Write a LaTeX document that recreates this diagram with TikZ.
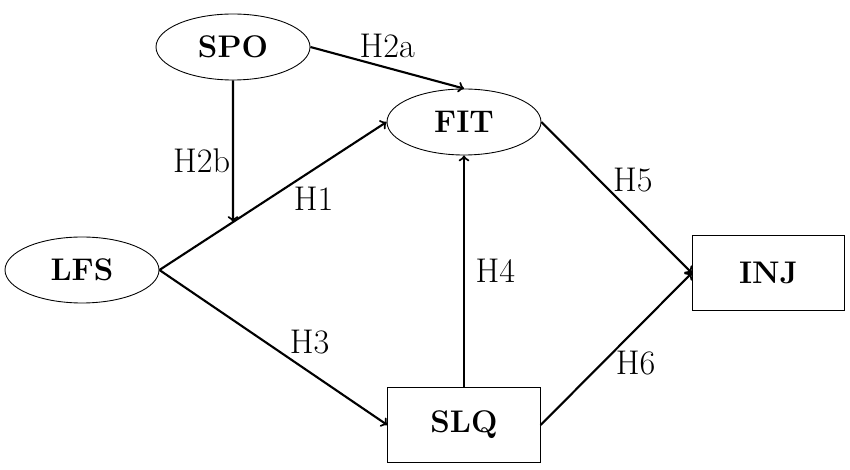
\documentclass[tikz,border=0pt]{standalone}
\usetikzlibrary{shapes.geometric}
\begin{document}
\begin{tikzpicture}[
        construct/.style={draw, ellipse, line width=0.5pt, minimum width=3.08cm, minimum height=1.32cm, font=\bfseries},
        outcome/.style={draw, rectangle, line width=0.5pt, minimum width=3.05cm, minimum height=1.5cm, font=\bfseries},
        path/.style={->, line width=1.2pt},
        hyp/.style={inner sep=3pt, font=\fontsize{19.5}{22}\selectfont}
    ]
        \fontsize{17.8}{21}\selectfont
        \useasboundingbox (0, 0) rectangle (17, 9.38);
        \node[construct] (spo) at (4.66, 8.44) {SPO};
        \node[construct] (fit) at (9.28, 6.94) {FIT};
        \node[construct] (lfs) at (1.64, 3.98) {LFS};
        \node[outcome] (inj) at (15.37, 3.92) {INJ};
        \node[outcome] (slq) at (9.28, 0.88) {SLQ};
        \coordinate (mod) at (intersection of spo.south--spo.center and lfs.east--fit.west);

        \draw[path] (spo.east) -- node[hyp, above, inner sep=5pt] {H2a} (fit.north);
        \draw[path] (spo.south) -- node[hyp, left, pos=0.57, inner sep=1pt] {H2b} (mod);
        \draw[path] (lfs.east) -- node[hyp, below right, pos=0.58, inner sep=1pt] {H1} (fit.west);
        \draw[path] (lfs.east) -- node[hyp, above right, pos=0.56, inner sep=1pt] {H3} (slq.west);
        \draw[path] (slq.north) -- node[hyp, right, inner sep=6pt] {H4} (fit.south);
        \draw[path] (fit.east) -- node[hyp, above right, pos=0.47, inner sep=0pt] {H5} (inj.west);
        \draw[path] (slq.east) -- node[hyp, below right, pos=0.49, inner sep=0pt] {H6} (inj.west);
    \end{tikzpicture}
\end{document}
